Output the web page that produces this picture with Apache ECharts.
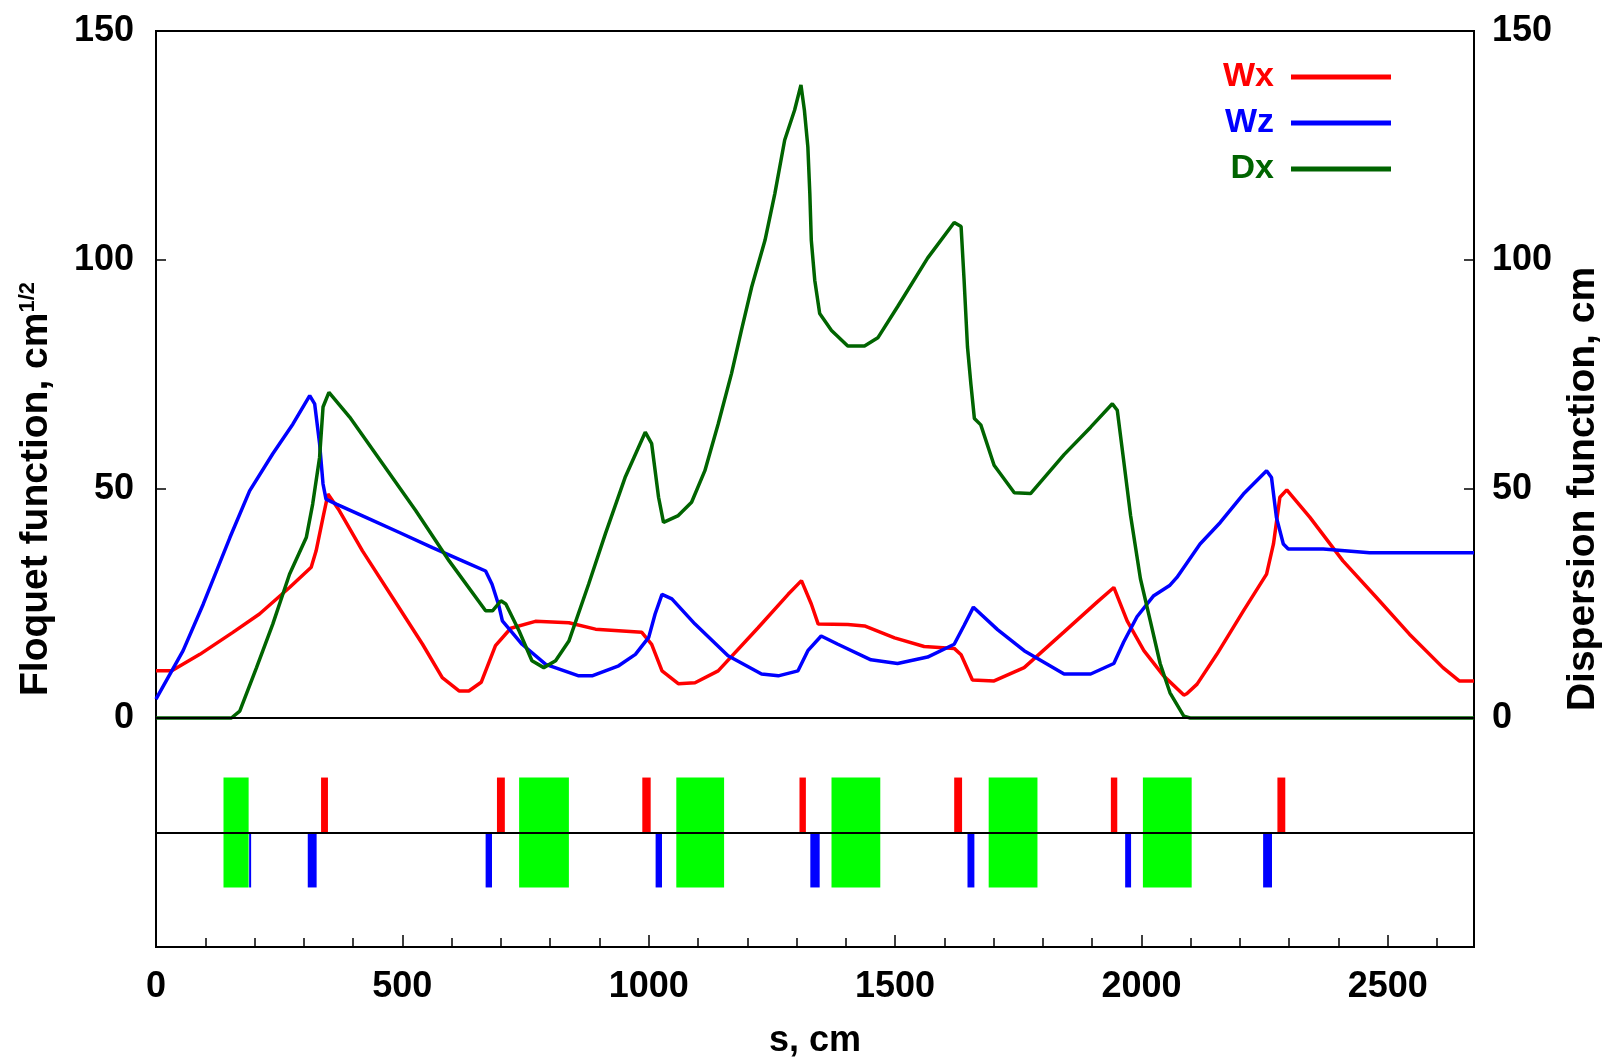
<!DOCTYPE html>
<html>
<head>
<meta charset="utf-8">
<script src="https://cdn.jsdelivr.net/npm/echarts@6/dist/echarts.min.js"></script>
<style>
  html, body { margin: 0; padding: 0; background: #fff; }
  #chart { width: 1611px; height: 1064px; }
</style>
</head>
<body>
<div id="chart"></div>
<script>
// Floquet functions [s (cm), value (cm^1/2)]
const wx = [[0,10.3],[32,10.3],[89,13.9],[156,18.7],[210,22.7],[271,28.5],[315,32.9],[325,36.5],[339,43.8],[349,48.9],[372,45.3],[419,36.5],[480,26.3],[541,16.1],[581,8.8],[615,5.9],[635,5.9],[660,7.8],[689,15.8],[720,19.6],[770,21.1],[838,20.8],[892,19.4],[986,18.7],[1006,16.1],[1027,10.3],[1060,7.5],[1094,7.7],[1141,10.3],[1222,19.7],[1283,27.0],[1310,30.0],[1330,24.9],[1344,20.5],[1404,20.4],[1438,20.1],[1499,17.5],[1559,15.6],[1620,15.2],[1634,13.8],[1657,8.3],[1701,8.1],[1762,11.0],[1843,18.8],[1910,25.3],[1944,28.5],[1971,21.2],[2005,14.7],[2045,9.2],[2086,5.0],[2092,5.3],[2113,7.4],[2153,13.9],[2207,23.4],[2254,31.4],[2268,38.0],[2281,48.2],[2295,49.8],[2342,43.8],[2409,34.3],[2477,26.3],[2544,18.3],[2612,11.0],[2645,8.1],[2675,8.1]];
const wz = [[0,4.1],[55,14.7],[96,24.9],[150,39.4],[190,49.6],[237,57.7],[278,64.2],[312,70.4],[322,68.6],[332,59.9],[339,51.1],[345,47.8],[366,46.7],[426,43.8],[494,40.5],[561,37.2],[629,34.0],[669,32.1],[682,29.2],[696,24.5],[703,21.2],[743,16.1],[791,11.7],[858,9.2],[885,9.2],[939,11.4],[973,13.9],[1000,17.6],[1013,22.7],[1027,27.0],[1047,26.0],[1094,20.5],[1161,13.6],[1229,9.6],[1263,9.2],[1303,10.3],[1323,14.7],[1350,17.9],[1384,16.1],[1451,12.7],[1505,11.9],[1566,13.3],[1620,16.1],[1640,20.2],[1659,24.2],[1708,19.3],[1762,14.7],[1843,9.6],[1897,9.6],[1944,11.9],[1964,16.6],[1991,22.1],[2025,26.7],[2058,29.0],[2072,30.7],[2119,38.0],[2160,42.7],[2207,48.9],[2254,54.0],[2264,52.5],[2274,43.8],[2288,38.0],[2298,36.9],[2369,36.9],[2463,36.1],[2675,36.1]];
// Dispersion function [s (cm), value (cm)]
const dx = [[0,0],[153,0],[170,1.5],[204,11.0],[237,20.5],[271,31.4],[305,39.4],[318,46.7],[332,56.9],[339,67.9],[351,71.1],[393,65.7],[460,55.5],[527,45.3],[595,34.3],[669,23.4],[683,23.4],[700,25.6],[710,24.9],[737,19.0],[763,12.5],[787,11.0],[811,12.5],[838,16.8],[878,29.2],[912,40.2],[952,52.5],[993,62.4],[1006,59.9],[1020,48.2],[1030,42.7],[1060,44.2],[1087,47.1],[1114,54.0],[1141,64.2],[1168,75.2],[1188,84.6],[1209,94.1],[1236,104.3],[1256,114.5],[1276,126.2],[1296,132.7],[1309,138.2],[1316,132.7],[1323,124.7],[1327,114.5],[1330,104.3],[1337,95.6],[1347,88.3],[1371,84.6],[1404,81.2],[1438,81.2],[1465,83.0],[1505,89.8],[1566,100.4],[1620,108.2],[1634,107.3],[1640,95.8],[1647,81.0],[1654,72.8],[1661,65.4],[1674,64.0],[1701,55.2],[1742,49.2],[1775,49.0],[1843,57.5],[1897,63.5],[1941,68.6],[1951,67.2],[1964,56.2],[1978,44.2],[1998,30.4],[2018,21.2],[2038,11.9],[2058,5.5],[2086,0.4],[2099,0],[2675,0]];

// lattice elements [start, end] in cm
const dipoles = [[137,188],[737,838],[1056,1153],[1371,1470],[1690,1789],[2003,2102]];
const quadsF = [[335,349],[692,708],[987,1004],[1306,1319],[1620,1636],[1938,1951],[2276,2292]];
const quadsD = [[189,191],[308,326],[669,682],[1014,1027],[1328,1347],[1647,1661],[1967,1979],[2247,2265]];

const sMax = 2675;
const latticeY = -25;
const font = "'Liberation Sans', Arial, sans-serif";

function boxes(list, lo, hi) {
    return list.map(function (e) { return [e[0], e[1], lo, hi]; });
}

function drawBox(params, api) {
    let p1 = api.coord([api.value(0), api.value(3)]);
    let p2 = api.coord([api.value(1), api.value(2)]);
    return {
        type: 'rect',
        shape: { x: p1[0], y: p1[1], width: Math.max(p2[0] - p1[0], 2), height: p2[1] - p1[1] },
        style: { fill: api.visual('color') }
    };
}

let yLabel = {
    fontSize: 36, fontWeight: 'bold', color: '#000', fontFamily: font, margin: 22,
    formatter: function (v) { return v < 0 ? '' : String(v); }
};

let option = {
    backgroundColor: '#fff',
    animation: false,
    grid: { left: 156, right: 134, top: 31, bottom: 116, show: true, borderColor: '#000', borderWidth: 2 },
    legend: {
        orient: 'vertical', align: 'right', right: 215, top: 55, itemGap: 12,
        icon: 'rect', itemWidth: 100, itemHeight: 5,
        textStyle: { fontSize: 34, fontWeight: 'bold', fontFamily: font, padding: [0, 12, 0, 0] },
        data: [
            { name: 'Wx', textStyle: { color: '#ff0000' } },
            { name: 'Wz', textStyle: { color: '#0000ff' } },
            { name: 'Dx', textStyle: { color: '#006400' } }
        ]
    },
    xAxis: [
        {
            type: 'value', min: 0, max: sMax, interval: 500,
            name: 's, cm', nameLocation: 'middle', nameGap: 76,
            nameTextStyle: { fontSize: 36, fontWeight: 'bold', color: '#000', fontFamily: font },
            axisLine: { onZero: false, lineStyle: { color: '#000', width: 2 } },
            axisTick: { inside: true, length: 12, lineStyle: { color: '#000', width: 1.5 } },
            axisLabel: {
                fontSize: 36, fontWeight: 'bold', color: '#000', fontFamily: font, margin: 22, showMaxLabel: false,
                formatter: function (v) { return String(v); }
            },
            splitLine: { show: false }
        },
        {
            type: 'value', min: 0, max: sMax, interval: 100, position: 'bottom',
            axisLine: { show: false, onZero: false },
            axisTick: { inside: true, length: 9, lineStyle: { color: '#000', width: 1.5 } },
            axisLabel: { show: false },
            splitLine: { show: false }
        }
    ],
    yAxis: [
        {
            type: 'value', min: -50, max: 150, interval: 50,
            name: 'Floquet function, cm{sup|1/2}', nameLocation: 'middle', nameGap: 100,
            nameTextStyle: {
                fontSize: 39, fontWeight: 'bold', color: '#000', fontFamily: font,
                rich: { sup: { fontSize: 22, fontWeight: 'bold', color: '#000', fontFamily: font, verticalAlign: 'top' } }
            },
            axisLine: { onZero: false, lineStyle: { color: '#000', width: 2 } },
            axisTick: { inside: true, length: 10, lineStyle: { color: '#000', width: 1.5 } },
            axisLabel: yLabel,
            splitLine: { show: false }
        },
        {
            type: 'value', min: -50, max: 150, interval: 50, position: 'right',
            name: 'Dispersion function, cm', nameLocation: 'middle', nameGap: 90,
            nameTextStyle: { fontSize: 39, fontWeight: 'bold', color: '#000', fontFamily: font },
            axisLine: { onZero: false, lineStyle: { color: '#000', width: 2 } },
            axisTick: { inside: true, length: 10, lineStyle: { color: '#000', width: 1.5 } },
            axisLabel: Object.assign({}, yLabel, { margin: 18 }),
            splitLine: { show: false }
        }
    ],
    series: [
        {
            name: 'base', type: 'line', data: [], z: 1, silent: true,
            markLine: {
                silent: true, symbol: 'none', label: { show: false },
                lineStyle: { color: '#000', width: 2, type: 'solid' },
                data: [{ yAxis: 0 }, { yAxis: latticeY }]
            }
        },
        { name: 'dipole', type: 'custom', z: 3, renderItem: drawBox, itemStyle: { color: '#00ff00' },
          encode: { x: [0, 1], y: [2, 3] }, data: boxes(dipoles, latticeY - 12, latticeY + 12) },
        { name: 'quadF', type: 'custom', z: 3, renderItem: drawBox, itemStyle: { color: '#ff0000' },
          encode: { x: [0, 1], y: [2, 3] }, data: boxes(quadsF, latticeY, latticeY + 12) },
        { name: 'quadD', type: 'custom', z: 3, renderItem: drawBox, itemStyle: { color: '#0000ff' },
          encode: { x: [0, 1], y: [2, 3] }, data: boxes(quadsD, latticeY - 12, latticeY) },
        { name: 'Wx', type: 'line', data: wx, showSymbol: false, z: 4, color: '#ff0000', lineStyle: { width: 3.5, color: '#ff0000' } },
        { name: 'Wz', type: 'line', data: wz, showSymbol: false, z: 4, color: '#0000ff', lineStyle: { width: 3.5, color: '#0000ff' } },
        { name: 'Dx', type: 'line', yAxisIndex: 1, data: dx, showSymbol: false, z: 4, color: '#006400', lineStyle: { width: 3.5, color: '#006400' } }
    ]
};

let myChart = echarts.init(document.getElementById('chart'));
myChart.setOption(option);
</script>
</body>
</html>
